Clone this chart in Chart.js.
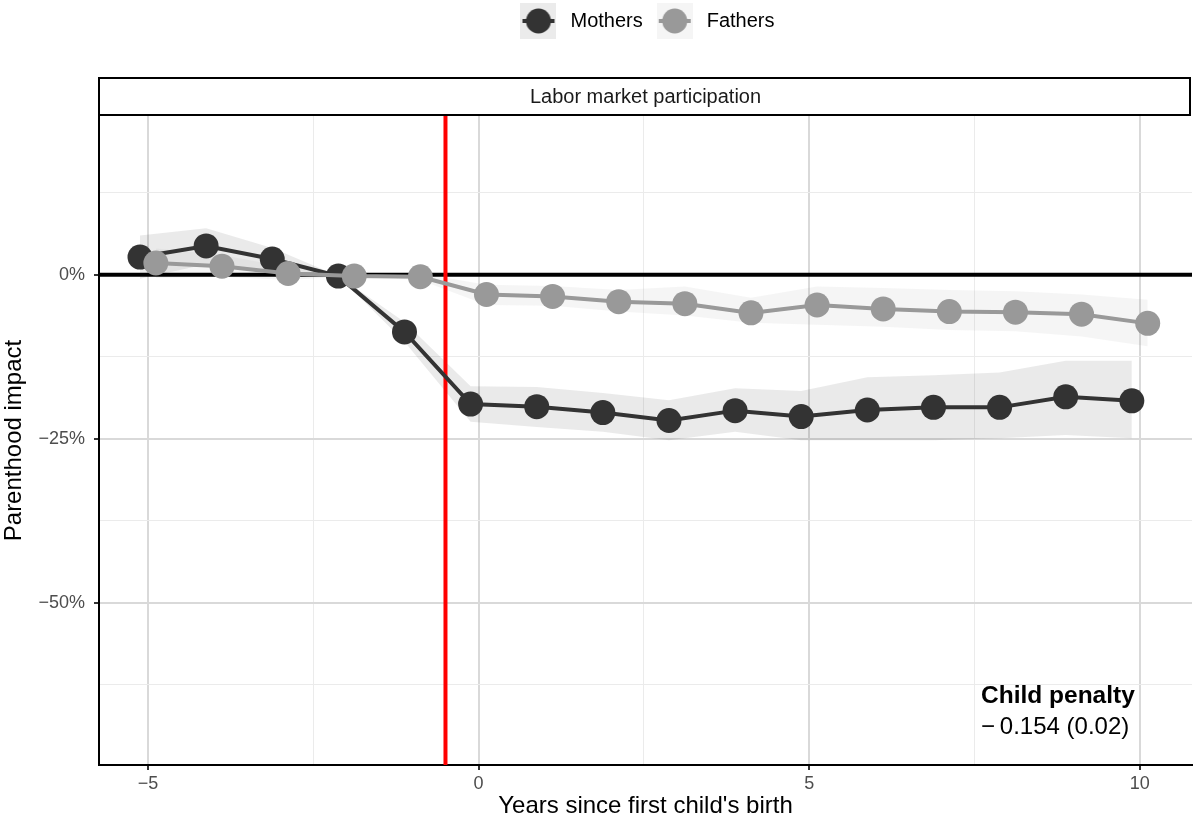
<!DOCTYPE html>
<html>
<head>
<meta charset="utf-8">
<script src="https://cdn.jsdelivr.net/npm/chart.js@4.4.0/dist/chart.umd.min.js"></script>
<style>
    html, body { margin: 0; padding: 0; background: #ffffff; }
    #contenedor { width: 1194px; height: 823px; }
</style>
</head>
<body>
<div id="contenedor"><canvas id="grafico_1"></canvas></div>
<script>
const anios = [-5, -4, -3, -2, -1, 0, 1, 2, 3, 4, 5, 6, 7, 8, 9, 10];
const series = ['Mothers', 'Fathers'];
// impacto en % (madres / padres) y banda de confianza
const madres = [2.7, 4.4, 2.4, -0.2, -8.7, -19.7, -20.1, -21.0, -22.2, -20.7, -21.6, -20.6, -20.2, -20.2, -18.6, -19.2];
const madresBajo = [-0.6, 1.6, 0.6, -0.2, -10.2, -22.4, -23.2, -23.9, -25.2, -23.9, -25.2, -25.2, -25.2, -24.9, -24.4, -24.9];
const madresAlto = [6.0, 7.1, 4.1, -0.2, -7.2, -17.0, -17.1, -18.0, -19.1, -17.3, -17.7, -15.6, -15.3, -14.9, -13.1, -13.1];
const padres = [1.8, 1.3, 0.2, -0.2, -0.3, -3.0, -3.3, -4.1, -4.4, -5.8, -4.6, -5.2, -5.6, -5.7, -6.0, -7.4];
const padresBajo = [-0.5, -0.3, -0.8, -0.2, -0.8, -4.6, -4.7, -5.6, -6.2, -7.3, -7.6, -7.9, -8.4, -8.6, -9.4, -10.9];
const padresAlto = [4.0, 3.0, 1.1, -0.2, 0.2, -1.5, -1.7, -2.3, -1.8, -3.5, -1.8, -2.0, -2.3, -2.5, -3.0, -3.8];
const ticksX = [-5, 0, 5, 10];
const ticksXMenores = [-2.5, 2.5, 7.5];
const ticksY = [0, -25, -50];
const ticksYMenores = [12.5, -12.5, -37.5, -62.5];
const limitesX = [-5.74, 10.79];
const limitesY = [-74.7, 24.2];
const lineaEvento = -0.5;
const penalidad = '\u2212\u20090.154 (0.02)';

const desplazamiento = 0.12;
const fuente = '"Liberation Sans", Arial, Helvetica, sans-serif';
Chart.defaults.font.family = fuente;

function menos(v) {
    return (v < 0 ? '\u2212' : '') + Math.abs(v);
}

function crearClave(color, fondo) {
    const c = document.createElement('canvas');
    c.width = 36;
    c.height = 36;
    const g = c.getContext('2d');
    g.fillStyle = fondo;
    g.fillRect(0, 0, 36, 36);
    g.strokeStyle = color;
    g.lineWidth = 4;
    g.beginPath();
    g.moveTo(2, 18);
    g.lineTo(34, 18);
    g.stroke();
    g.fillStyle = color;
    g.beginPath();
    g.arc(18, 18, 12.5, 0, 2 * Math.PI);
    g.fill();
    return c;
}

function puntos(valores, dx) {
    return anios.map((a, i) => ({ x: a + dx, y: valores[i] }));
}

document.addEventListener('DOMContentLoaded', function () {
    const grafico_1 = document.getElementById("grafico_1").getContext("2d");
    const claves = [crearClave('#333333', '#ebebeb'), crearClave('#999999', '#f5f5f5')];

    // franja de título y anotación
    const extras = {
        id: 'extras',
        beforeInit(chart) {
            const fit = chart.legend.fit;
            chart.legend.fit = function () {
                fit.bind(chart.legend)();
                this.height = 115;
            };
        },
        afterDraw(chart) {
            const ctx = chart.ctx;
            const a = chart.chartArea;
            ctx.save();
            ctx.fillStyle = '#ffffff';
            ctx.fillRect(a.left, 78, a.right - a.left - 2, 37);
            ctx.strokeStyle = '#000000';
            ctx.lineWidth = 2;
            ctx.strokeRect(a.left, 78, a.right - a.left - 2, 37);
            ctx.fillStyle = '#1a1a1a';
            ctx.font = '20px ' + fuente;
            ctx.textAlign = 'center';
            ctx.textBaseline = 'middle';
            ctx.fillText('Labor market participation', (a.left + a.right) / 2, 97);

            ctx.textAlign = 'left';
            ctx.textBaseline = 'alphabetic';
            ctx.fillStyle = '#000000';
            ctx.font = 'bold 24.5px ' + fuente;
            ctx.fillText('Child penalty', a.right - 211, a.bottom - 62);
            ctx.font = '24px ' + fuente;
            ctx.fillText(penalidad, a.right - 211, a.bottom - 31);
            ctx.restore();
        }
    };

    const myChart = new Chart(grafico_1, {
        type: "scatter",
        data: {
            datasets: [{
                label: "banda_m_bajo",
                data: puntos(madresBajo, -desplazamiento),
                showLine: true,
                borderWidth: 0,
                pointRadius: 0,
                fill: false,
                order: 10
            },
            {
                label: "banda_m_alto",
                data: puntos(madresAlto, -desplazamiento),
                showLine: true,
                borderWidth: 0,
                pointRadius: 0,
                backgroundColor: 'rgba(51, 51, 51, 0.1)',
                fill: '-1',
                order: 10
            },
            {
                label: "banda_p_bajo",
                data: puntos(padresBajo, desplazamiento),
                showLine: true,
                borderWidth: 0,
                pointRadius: 0,
                fill: false,
                order: 9
            },
            {
                label: "banda_p_alto",
                data: puntos(padresAlto, desplazamiento),
                showLine: true,
                borderWidth: 0,
                pointRadius: 0,
                backgroundColor: 'rgba(153, 153, 153, 0.1)',
                fill: '-1',
                order: 9
            },
            {
                label: "cero",
                data: [{ x: limitesX[0], y: 0 }, { x: limitesX[1], y: 0 }],
                showLine: true,
                borderColor: '#000000',
                borderWidth: 4,
                pointRadius: 0,
                order: 6
            },
            {
                label: "evento",
                data: [{ x: lineaEvento, y: limitesY[0] }, { x: lineaEvento, y: limitesY[1] }],
                showLine: true,
                borderColor: '#ff0000',
                borderWidth: 4,
                pointRadius: 0,
                order: 5
            },
            {
                label: series[0],
                data: puntos(madres, -desplazamiento),
                showLine: true,
                borderColor: '#333333',
                backgroundColor: '#333333',
                borderWidth: 4,
                pointRadius: 12.5,
                pointBorderWidth: 0,
                order: 2
            },
            {
                label: series[1],
                data: puntos(padres, desplazamiento),
                showLine: true,
                borderColor: '#999999',
                backgroundColor: '#999999',
                borderWidth: 4,
                pointRadius: 12.5,
                pointBorderWidth: 0,
                order: 1
            }
            ]
        }, options: {
            responsive: true,
            maintainAspectRatio: false,
            animation: false,
            devicePixelRatio: 1,
            layout: {
                autoPadding: false,
                padding: { top: 1, right: 2, left: 0, bottom: 0 }
            },
            scales: {
                x: {
                    type: 'linear',
                    min: limitesX[0],
                    max: limitesX[1],
                    afterBuildTicks: function (scale) {
                        scale.ticks = ticksX.concat(ticksXMenores).sort((a, b) => a - b).map(v => ({ value: v }));
                    },
                    afterFit: function (scale) {
                        scale.height = 58;
                        scale.paddingLeft = 0;
                        scale.paddingRight = 0;
                    },
                    border: { display: true, color: '#000000', width: 2 },
                    grid: {
                        color: c => (c.tick && ticksX.includes(c.tick.value)) ? '#d9d9d9' : '#ebebeb',
                        lineWidth: c => (c.tick && ticksX.includes(c.tick.value)) ? 2 : 1,
                        tickColor: c => (c.tick && ticksX.includes(c.tick.value)) ? '#333333' : 'rgba(0,0,0,0)',
                        tickWidth: 2,
                        tickLength: 5
                    },
                    ticks: {
                        autoSkip: false,
                        maxRotation: 0,
                        padding: 3,
                        color: '#4d4d4d',
                        font: { size: 18 },
                        callback: v => ticksX.includes(v) ? menos(v) : ''
                    },
                    title: {
                        display: true,
                        text: "Years since first child's birth",
                        color: '#000000',
                        font: { size: 24 },
                        padding: { top: 0, bottom: 2 }
                    }
                },
                y: {
                    type: 'linear',
                    min: limitesY[0],
                    max: limitesY[1],
                    afterBuildTicks: function (scale) {
                        scale.ticks = ticksY.concat(ticksYMenores).sort((a, b) => a - b).map(v => ({ value: v }));
                    },
                    afterFit: function (scale) {
                        scale.width = 99;
                    },
                    border: { display: true, color: '#000000', width: 2 },
                    grid: {
                        color: c => (c.tick && ticksY.includes(c.tick.value)) ? '#d9d9d9' : '#ebebeb',
                        lineWidth: c => (c.tick && ticksY.includes(c.tick.value)) ? 2 : 1,
                        tickColor: c => (c.tick && ticksY.includes(c.tick.value)) ? '#333333' : 'rgba(0,0,0,0)',
                        tickWidth: 2,
                        tickLength: 5
                    },
                    ticks: {
                        autoSkip: false,
                        padding: 9,
                        color: '#4d4d4d',
                        font: { size: 18 },
                        callback: v => ticksY.includes(v) ? menos(v) + '%' : ''
                    },
                    title: {
                        display: true,
                        text: 'Parenthood impact',
                        color: '#000000',
                        font: { size: 24 },
                        padding: { top: 0, bottom: 0 }
                    }
                }
            },
            plugins: {
                tooltip: { enabled: false },
                legend: {
                    position: 'top',
                    fullSize: false,
                    labels: {
                        usePointStyle: true,
                        pointStyleWidth: 44,
                        padding: 10,
                        color: '#000000',
                        font: { size: 20 },
                        generateLabels: function () {
                            return series.map((nombre, i) => ({
                                text: nombre,
                                pointStyle: claves[i],
                                fillStyle: 'rgba(0,0,0,0)',
                                strokeStyle: 'rgba(0,0,0,0)',
                                lineWidth: 0,
                                fontColor: '#000000',
                                hidden: false,
                                datasetIndex: 6 + i
                            }));
                        }
                    }
                }
            }
        },
        plugins: [extras]
    });
});
</script>
</body>
</html>
